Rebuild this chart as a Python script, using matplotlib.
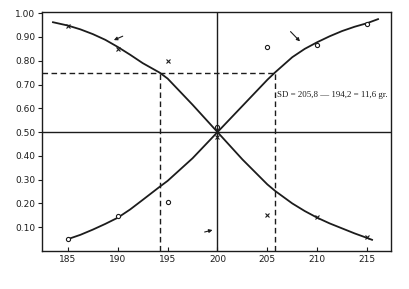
import matplotlib
matplotlib.use("Agg")
import matplotlib.pyplot as plt

# fitted curves
dec_x = [183.5, 185, 186.25, 187.5, 188.75, 190, 191.25, 192.5, 194.2, 195, 197.5, 200, 202.5, 205, 205.8, 207.5, 208.75, 210, 211.25, 212.5, 213.75, 215, 215.5]
dec_y = [0.962, 0.948, 0.932, 0.912, 0.888, 0.858, 0.825, 0.79, 0.75, 0.725, 0.615, 0.50, 0.385, 0.28, 0.252, 0.20, 0.168, 0.14, 0.116, 0.095, 0.074, 0.055, 0.047]
inc_x = [185, 186.25, 187.5, 188.75, 190, 191.25, 192.5, 194.2, 195, 197.5, 200, 202.5, 205, 205.8, 207.5, 208.75, 210, 211.25, 212.5, 213.75, 215, 216.1]
inc_y = [0.05, 0.068, 0.09, 0.114, 0.14, 0.175, 0.215, 0.27, 0.295, 0.39, 0.50, 0.61, 0.72, 0.752, 0.815, 0.85, 0.878, 0.903, 0.925, 0.943, 0.958, 0.975]

# observed points
cross_x = [185, 190, 195, 200, 205, 210, 215]
cross_y = [0.946, 0.851, 0.80, 0.48, 0.151, 0.143, 0.06]
circ_x = [185, 190, 195, 200, 205, 210, 215]
circ_y = [0.05, 0.146, 0.205, 0.52, 0.858, 0.868, 0.955]

x_ticks = [185, 190, 195, 200, 205, 210, 215]
y_ticks = [0.10, 0.20, 0.30, 0.40, 0.50, 0.60, 0.70, 0.80, 0.90, 1.00]
y_tick_labels = ["0.10", "0.20", "0.30", "0.40", "0.50", "0.60", "0.70", "0.80", "0.90", "1.00"]

lo, mid, hi = 194.2, 200, 205.8
level = 0.75
sd_text = "SD = 205,8 \u2014 194,2 = 11,6 gr."

ink = "#1c1c1c"

fig = plt.figure(figsize=(4.10, 2.89), dpi=100)
ax = fig.add_axes([42/410, 1-251/289, (391-42)/410, (251-12)/289])
ax.set_xlim(182.4, 217.4)
ax.set_ylim(0, 1.005)

ax.plot(dec_x, dec_y, color=ink, lw=1.3)
ax.plot(inc_x, inc_y, color=ink, lw=1.3)
ax.plot(cross_x, cross_y, linestyle="none", marker="x", ms=3, mew=0.8, color=ink)
ax.plot(circ_x, circ_y, linestyle="none", marker="o", ms=3, mew=0.8, mfc="white", mec=ink)

# reference lines
ax.axvline(mid, color=ink, lw=1.0)
ax.axhline(0.5, color=ink, lw=1.0)
ax.plot([182.4, hi], [level, level], color=ink, lw=1.0, ls=(0, (4, 2.5)))
ax.plot([lo, lo], [0, level], color=ink, lw=1.0, ls=(0, (4, 2.5)))
ax.plot([hi, hi], [0, level], color=ink, lw=1.0, ls=(0, (4, 2.5)))

ax.text(206.0, 0.655, sd_text, fontsize=6.4, family="Liberation Serif", va="center", ha="left", color=ink)

arr = dict(arrowstyle="-|>", color=ink, lw=0.8, mutation_scale=5)
ax.annotate("", xy=(189.35, 0.882), xytext=(190.75, 0.908), arrowprops=arr)
ax.annotate("", xy=(199.77, 0.091), xytext=(198.44, 0.077), arrowprops=arr)
ax.annotate("", xy=(208.47, 0.873), xytext=(207.13, 0.931), arrowprops=arr)

ax.set_xticks(x_ticks)
ax.set_xticklabels([str(v) for v in x_ticks])
ax.set_yticks(y_ticks)
ax.set_yticklabels(y_tick_labels)
ax.tick_params(axis="x", direction="in", length=3, width=0.8, labelsize=6.5, pad=3, colors=ink)
ax.tick_params(axis="y", direction="out", length=3, width=0.8, labelsize=6.5, pad=2, colors=ink)
for s in ax.spines.values():
    s.set_linewidth(1.0)
    s.set_color(ink)

fig.savefig("out.png", dpi=100)
